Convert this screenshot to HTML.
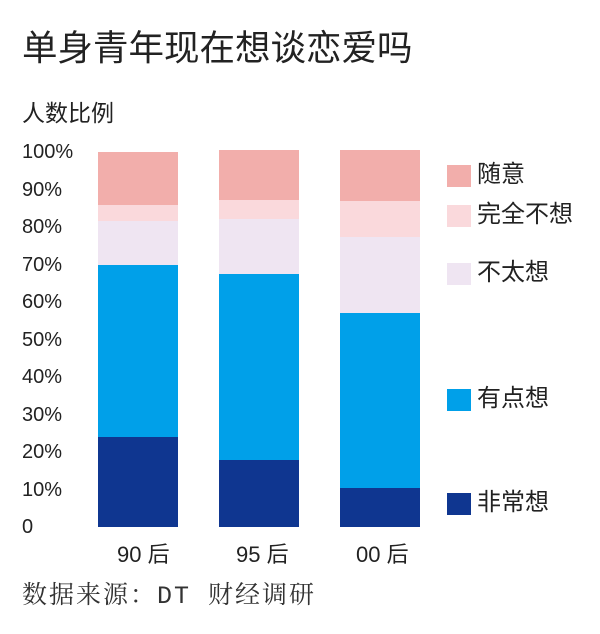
<!DOCTYPE html>
<html><head><meta charset="utf-8"><style>
body{margin:0;background:#fff;width:600px;height:634px;overflow:hidden;font-family:"Liberation Sans","Noto Sans CJK SC",sans-serif;color:#222}
.a{position:absolute;white-space:nowrap}
.t{font-size:20px;line-height:20px;left:22px}
.b{position:absolute;width:80px}
.l{font-size:24px;line-height:28px;left:477px}
</style></head><body>
<div class="a" style="left:22px;top:26px;font-size:35.5px;line-height:44px">单身青年现在想谈恋爱吗</div>
<div class="a" style="left:22px;top:99px;font-size:23px;line-height:28px">人数比例</div>
<div class="a t" style="top:142px">100%</div>
<div class="a t" style="top:180px">90%</div>
<div class="a t" style="top:217px">80%</div>
<div class="a t" style="top:255px">70%</div>
<div class="a t" style="top:292px">60%</div>
<div class="a t" style="top:330px">50%</div>
<div class="a t" style="top:367px">40%</div>
<div class="a t" style="top:405px">30%</div>
<div class="a t" style="top:442px">20%</div>
<div class="a t" style="top:480px">10%</div>
<div class="a t" style="top:517px">0</div>

<div class="b" style="left:98px;top:152px;height:53px;background:#f2aeab"></div>
<div class="b" style="left:98px;top:205px;height:16px;background:#fad9dc"></div>
<div class="b" style="left:98px;top:221px;height:44px;background:#efe5f2"></div>
<div class="b" style="left:98px;top:265px;height:172px;background:#00a0e9"></div>
<div class="b" style="left:98px;top:437px;height:90px;background:#0f3690"></div>

<div class="b" style="left:219px;top:150px;height:50px;background:#f2aeab"></div>
<div class="b" style="left:219px;top:200px;height:19px;background:#fad9dc"></div>
<div class="b" style="left:219px;top:219px;height:55px;background:#efe5f2"></div>
<div class="b" style="left:219px;top:274px;height:186px;background:#00a0e9"></div>
<div class="b" style="left:219px;top:460px;height:67px;background:#0f3690"></div>

<div class="b" style="left:340px;top:150px;height:51px;background:#f2aeab"></div>
<div class="b" style="left:340px;top:201px;height:36px;background:#fad9dc"></div>
<div class="b" style="left:340px;top:237px;height:76px;background:#efe5f2"></div>
<div class="b" style="left:340px;top:313px;height:175px;background:#00a0e9"></div>
<div class="b" style="left:340px;top:488px;height:39px;background:#0f3690"></div>

<div class="a" style="left:117px;top:541px;font-size:22px;line-height:28px">90 后</div>
<div class="a" style="left:236px;top:541px;font-size:22px;line-height:28px">95 后</div>
<div class="a" style="left:356px;top:541px;font-size:22px;line-height:28px">00 后</div>

<div class="a" style="left:447px;top:165px;width:24px;height:22px;background:#f2aeab"></div>
<div class="a l" style="top:161px">随意</div>
<div class="a" style="left:447px;top:205px;width:24px;height:22px;background:#fad9dc"></div>
<div class="a l" style="top:201px">完全不想</div>
<div class="a" style="left:447px;top:263px;width:24px;height:22px;background:#efe5f2"></div>
<div class="a l" style="top:259px">不太想</div>
<div class="a" style="left:447px;top:389px;width:24px;height:22px;background:#00a0e9"></div>
<div class="a l" style="top:385px">有点想</div>
<div class="a" style="left:447px;top:493px;width:24px;height:22px;background:#0f3690"></div>
<div class="a l" style="top:489px">非常想</div>

<div class="a" style="left:22px;top:582px;font-size:25px;line-height:30px;color:#333;font-family:'Liberation Mono','Noto Serif CJK SC',serif;letter-spacing:2px">数据来源：DT 财经调研</div>
</body></html>
